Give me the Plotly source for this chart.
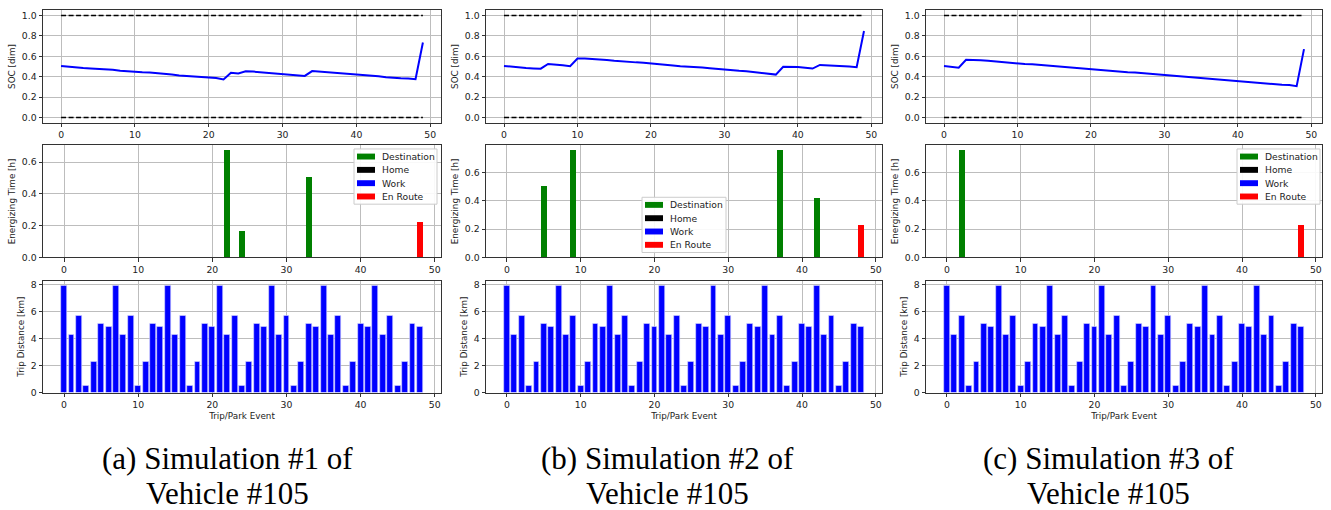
import plotly.graph_objects as go
from plotly.subplots import make_subplots

W, H = 1331, 510

# ---------------- data ----------------
events_soc = list(range(50))
events_trip = list(range(49))

soc_sim1 = [0.505, 0.497, 0.491, 0.484, 0.481, 0.479, 0.474, 0.468, 0.459, 0.452,
            0.446, 0.442, 0.440, 0.435, 0.428, 0.420, 0.412, 0.406, 0.402, 0.399,
            0.393, 0.386, 0.372, 0.438, 0.432, 0.452, 0.450, 0.444, 0.437, 0.429,
            0.421, 0.414, 0.410, 0.407, 0.455, 0.450, 0.441, 0.435, 0.428, 0.426,
            0.423, 0.418, 0.411, 0.403, 0.395, 0.388, 0.385, 0.382, 0.375, 0.735]
soc_sim2 = [0.505, 0.497, 0.492, 0.484, 0.481, 0.478, 0.525, 0.522, 0.512, 0.503,
            0.578, 0.578, 0.575, 0.570, 0.563, 0.556, 0.549, 0.542, 0.540, 0.537,
            0.532, 0.525, 0.517, 0.510, 0.503, 0.500, 0.497, 0.490, 0.483, 0.475,
            0.467, 0.460, 0.457, 0.454, 0.446, 0.438, 0.430, 0.420, 0.497, 0.497,
            0.494, 0.488, 0.479, 0.515, 0.513, 0.505, 0.503, 0.500, 0.492, 0.848]
soc_sim3 = [0.505, 0.497, 0.488, 0.565, 0.565, 0.562, 0.556, 0.549, 0.540, 0.533,
            0.527, 0.524, 0.522, 0.516, 0.509, 0.501, 0.494, 0.487, 0.484, 0.480,
            0.473, 0.465, 0.457, 0.450, 0.445, 0.443, 0.440, 0.434, 0.427, 0.418,
            0.410, 0.404, 0.401, 0.398, 0.391, 0.383, 0.375, 0.368, 0.362, 0.360,
            0.356, 0.350, 0.343, 0.335, 0.328, 0.321, 0.320, 0.318, 0.307, 0.670]

soc_bound_x = [0, 49]
soc_lower = [0.0, 0.0]
soc_upper = [1.0, 1.0]

# Energizing events per location category
sim1_dest_x, sim1_dest_h = [22, 24, 33], [0.672, 0.167, 0.503]
sim1_enr_x, sim1_enr_h = [48], [0.223]
sim2_dest_x, sim2_dest_h = [5, 9, 37, 42], [0.503, 0.754, 0.754, 0.416]
sim2_enr_x, sim2_enr_h = [48], [0.225]
sim3_dest_x, sim3_dest_h = [2], [0.754]
sim3_enr_x, sim3_enr_h = [48], [0.225]
home_x, home_h = [], []
work_x, work_h = [], []

trip_km = [7.9, 4.3, 5.7, 0.5, 2.25, 5.1, 4.85,
           7.9, 4.3, 5.7, 0.5, 2.25, 5.1, 4.85,
           7.9, 4.3, 5.7, 0.5, 2.25, 5.1, 4.85,
           7.9, 4.3, 5.7, 0.5, 2.25, 5.1, 4.85,
           7.9, 4.3, 5.7, 0.5, 2.25, 5.1, 4.85,
           7.9, 4.3, 5.7, 0.5, 2.25, 5.1, 4.85,
           7.9, 4.3, 5.7, 0.5, 2.25, 5.1, 4.85]

legend_labels = ["Destination", "Home", "Work", "En Route"]
legend_colors = ["green", "black", "blue", "red"]

captions_line1 = ["(a) Simulation #1 of", "(b) Simulation #2 of", "(c) Simulation #3 of"]
captions_line2 = ["Vehicle #105", "Vehicle #105", "Vehicle #105"]

x_tick_vals = [0, 10, 20, 30, 40, 50]
soc_ticks = [0.0, 0.2, 0.4, 0.6, 0.8, 1.0]
energy_ticks = [0.0, 0.2, 0.4, 0.6]
trip_ticks = [0, 2, 4, 6, 8]

# ---------------- figure ----------------
fig = make_subplots(rows=3, cols=3)

sims = [
    (soc_sim1, [(sim1_dest_x, sim1_dest_h), (home_x, home_h), (work_x, work_h), (sim1_enr_x, sim1_enr_h)]),
    (soc_sim2, [(sim2_dest_x, sim2_dest_h), (home_x, home_h), (work_x, work_h), (sim2_enr_x, sim2_enr_h)]),
    (soc_sim3, [(sim3_dest_x, sim3_dest_h), (home_x, home_h), (work_x, work_h), (sim3_enr_x, sim3_enr_h)]),
]

for c, (soc, energ) in enumerate(sims, start=1):
    fig.add_trace(go.Scatter(x=soc_bound_x, y=soc_upper, mode="lines",
                             line=dict(color="black", width=1.5, dash="5px,2.5px"),
                             showlegend=False), row=1, col=c)
    fig.add_trace(go.Scatter(x=soc_bound_x, y=soc_lower, mode="lines",
                             line=dict(color="black", width=1.5, dash="5px,2.5px"),
                             showlegend=False), row=1, col=c)
    fig.add_trace(go.Scatter(x=events_soc, y=soc, mode="lines",
                             line=dict(color="blue", width=2),
                             showlegend=False), row=1, col=c)
    for (ex, eh), lab, col in zip(energ, legend_labels, legend_colors):
        fig.add_trace(go.Bar(x=ex, y=eh, width=0.8, marker_color=col,
                             marker_line_width=0, name=lab, showlegend=False),
                      row=2, col=c)
    fig.add_trace(go.Bar(x=events_trip, y=trip_km, width=0.8, marker_color="blue",
                         marker_line=dict(color="#d8d8ff", width=0.6),
                         showlegend=False), row=3, col=c)

# domains (pixel based)
col_px = [(43, 441), (486, 882), (926, 1322)]
row_px = [(8.5, 122.2), (145.3, 259.0), (282.7, 396.0)]

tickfont = dict(family="DejaVu Sans", size=9.3, color="#222")
titlefont = dict(family="DejaVu Sans", size=8.8, color="#222")

soc_xr = [-0.05 * 49, 49 + 0.05 * 49]
bar_span = 48.8
bar_xr = [-0.4 - 0.05 * bar_span, 48.4 + 0.05 * bar_span]

for r in range(1, 4):
    for c in range(1, 4):
        idx = (r - 1) * 3 + c
        xa = "xaxis" if idx == 1 else f"xaxis{idx}"
        ya = "yaxis" if idx == 1 else f"yaxis{idx}"
        x0, x1 = col_px[c - 1]
        y0, y1 = row_px[r - 1]
        common = dict(showline=True, linecolor="#333", linewidth=1, mirror=True,
                      ticks="outside", ticklen=3.5, tickwidth=0.8, tickcolor="#333",
                      showgrid=True, gridcolor="#bdbdbd", gridwidth=0.8,
                      zeroline=False, tickfont=tickfont)
        xr = soc_xr if r == 1 else bar_xr
        xtitle = dict(text="Trip/Park Event", font=titlefont, standoff=3) if r == 3 else None
        fig.layout[xa].update(domain=[x0 / W, x1 / W], range=xr, tickvals=x_tick_vals,
                              **common)
        if xtitle:
            fig.layout[xa].title = xtitle
        if r == 1:
            fig.layout[ya].update(domain=[1 - y1 / H, 1 - y0 / H], range=[-0.05, 1.05],
                                  tickvals=soc_ticks, tickformat=".1f",
                                  title=dict(text="SOC [dim]", font=titlefont, standoff=4),
                                  **common)
        elif r == 2:
            energ = sims[c - 1][1]
            mx = max(max(h) for _, h in energ if h)
            fig.layout[ya].update(domain=[1 - y1 / H, 1 - y0 / H], range=[0, mx * 1.05],
                                  tickvals=energy_ticks, tickformat=".1f",
                                  title=dict(text="Energizing Time [h]", font=titlefont, standoff=4),
                                  **common)
        else:
            fig.layout[ya].update(domain=[1 - y1 / H, 1 - y0 / H], range=[0, max(trip_km) * 1.05],
                                  tickvals=trip_ticks,
                                  title=dict(text="Trip Distance [km]", font=titlefont, standoff=4),
                                  **common)

# ---------------- manual matplotlib-style legends ----------------
def px_x(v):
    return v / W

def px_y(v):
    return 1 - v / H

shapes = []
annots = []
legend_boxes = [(354, 149, 83), (642, 198, 84), (1237, 149, 83)]
for left, top, width in legend_boxes:
    shapes.append(dict(type="rect", xref="paper", yref="paper",
                       x0=px_x(left), x1=px_x(left + width),
                       y0=px_y(top + 56), y1=px_y(top),
                       fillcolor="rgba(255,255,255,0.9)",
                       line=dict(color="#cccccc", width=1), layer="above"))
    for i, (lab, colr) in enumerate(zip(legend_labels, legend_colors)):
        cy = top + 7.7 + 13.5 * i
        shapes.append(dict(type="rect", xref="paper", yref="paper",
                           x0=px_x(left + 3), x1=px_x(left + 21),
                           y0=px_y(cy + 3), y1=px_y(cy - 3),
                           fillcolor=colr, line=dict(width=0), layer="above"))
        annots.append(dict(text=lab, xref="paper", yref="paper",
                           x=px_x(left + 26), y=px_y(cy), xanchor="left", yanchor="middle",
                           showarrow=False, font=dict(family="DejaVu Sans", size=9.2, color="#222")))

# ---------------- captions ----------------
cap_centers = [227, 667, 1108]
for cx, l1, l2 in zip(cap_centers, captions_line1, captions_line2):
    annots.append(dict(text=l1, xref="paper", yref="paper", x=px_x(cx), y=px_y(463),
                       xanchor="center", yanchor="middle", showarrow=False,
                       font=dict(family="Liberation Serif", size=31, color="black")))
    annots.append(dict(text=l2, xref="paper", yref="paper", x=px_x(cx), y=px_y(498),
                       xanchor="center", yanchor="middle", showarrow=False,
                       font=dict(family="Liberation Serif", size=31, color="black")))

fig.update_layout(width=W, height=H, margin=dict(l=0, r=0, t=0, b=0),
                  paper_bgcolor="white", plot_bgcolor="white",
                  barmode="overlay", bargap=0, showlegend=False,
                  shapes=shapes, annotations=annots)

fig.write_html("out.html")
